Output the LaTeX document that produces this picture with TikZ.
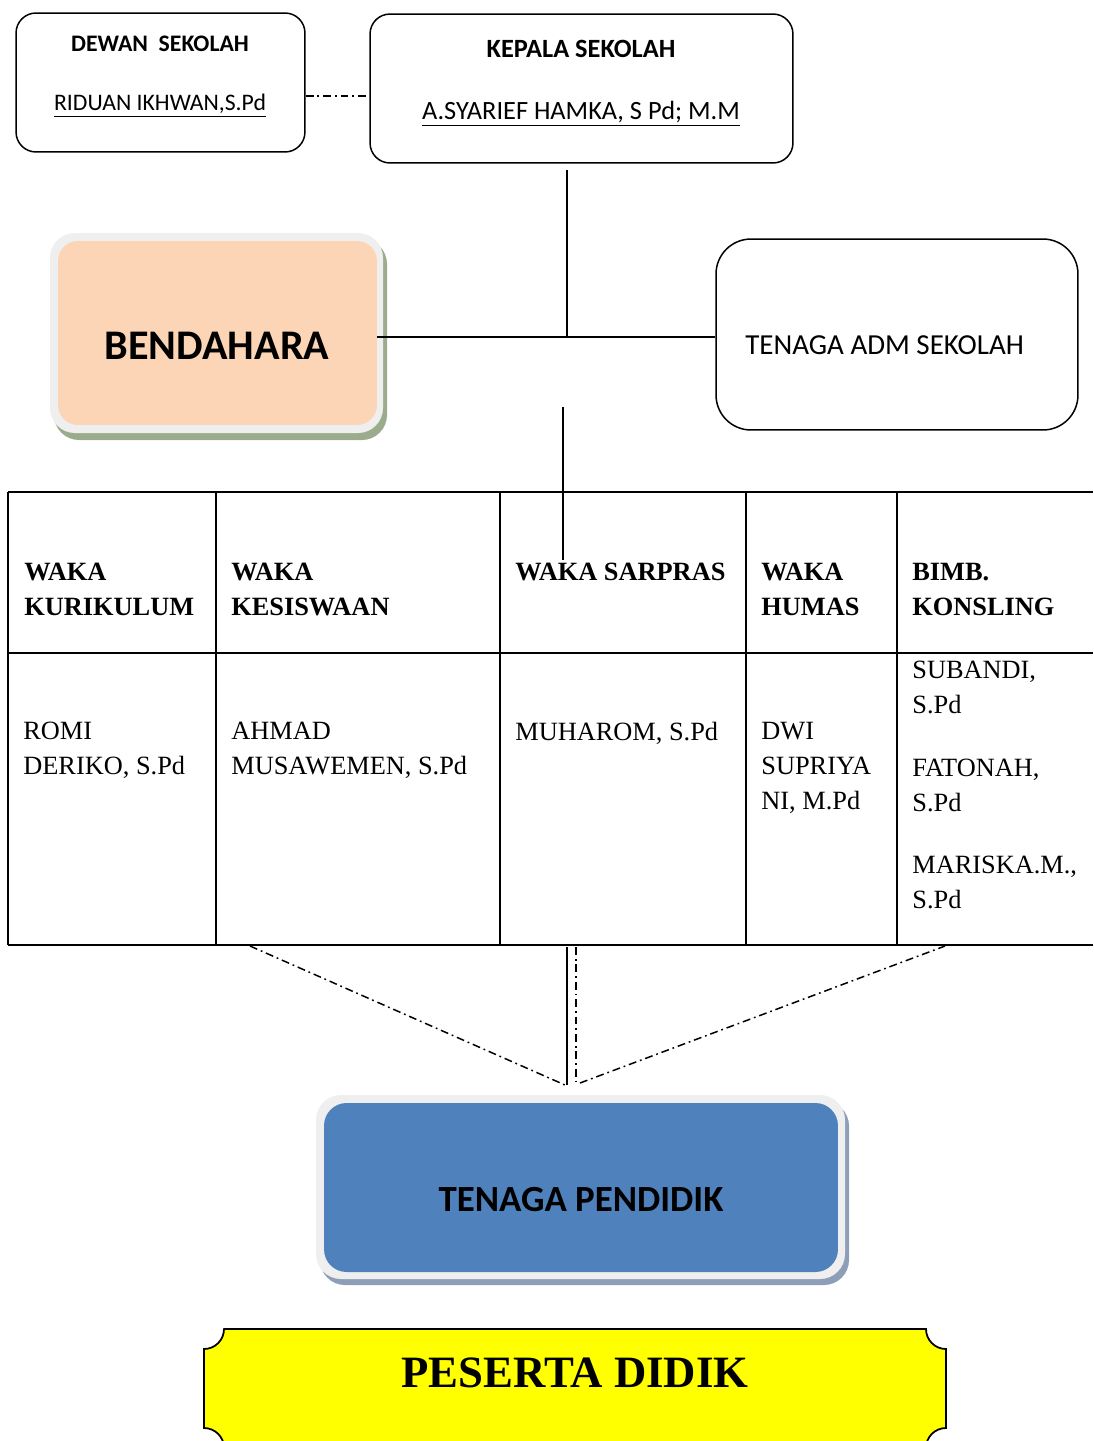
\documentclass[tikz,border=0pt]{standalone}
\usepackage{fontspec}
\setmainfont{Carlito}
\newfontfamily\tnr{Liberation Serif}
\usetikzlibrary{positioning}
\definecolor{peach}{HTML}{FBD5B5}
\definecolor{pendblue}{HTML}{4F81BD}
\definecolor{rim}{HTML}{EFEFEF}
\definecolor{shgreen}{HTML}{9AAC8C}
\definecolor{shblue}{HTML}{8E9DB8}
\definecolor{plaque}{HTML}{FFFF00}
\tikzset{
  box/.style={draw, line width=0.85pt, rounded corners=0.4cm},
  link/.style={line width=0.8pt},
  dashdot/.style={line width=0.85pt, dash pattern=on 4.5pt off 2.2pt on 1pt off 2.2pt},
  head/.style={font=\tnr\bfseries\fontsize{15}{19.8}\selectfont, anchor=north west, inner sep=0pt, align=left},
  cell/.style={font=\tnr\fontsize{15}{19.8}\selectfont, anchor=north west, inner sep=0pt, align=left},
}

\begin{document}
\begin{tikzpicture}[x=0.02cm,y=-0.02cm]
\useasboundingbox (0,0) rectangle (1093,1441);
\clip (0,0) rectangle (1093,1441);

% dewan sekolah & kepala sekolah
\node[box, minimum width=5.78cm, minimum height=2.78cm] (dewan) at (160.5,82.5) {};
\node[font=\bfseries\fontsize{13.5}{16}\selectfont] (dtitle) at (160,44) {DEWAN\ \ SEKOLAH};
\node[font=\fontsize{13.5}{16}\selectfont] (dname) at (160,106) {\underline{RIDUAN IKHWAN,S.Pd}};
\node[box, minimum width=8.46cm, minimum height=2.98cm] (kepala) at (581.5,88.5) {};
\node[font=\bfseries\fontsize{15}{18}\selectfont] (ktitle) at (581,49) {KEPALA SEKOLAH};
\node[font=\fontsize{15}{18}\selectfont] (kname) at (581,114) {\underline{A.SYARIEF HAMKA, S Pd; M.M}};
\coordinate (lnk) at (0,96);
\draw[dashdot] (dewan.east |- lnk) -- (kepala.west |- lnk);

% bendahara
\fill[shgreen, rounded corners=0.5cm] (54,239) rectangle (387,440);
\fill[rim, rounded corners=0.5cm] (50,233) rectangle (383,433);
\node[fill=peach, rounded corners=0.4cm, minimum width=6.38cm, minimum height=3.68cm] (bend) at (217.5,333) {};
\node[font=\bfseries\fontsize{24}{28}\selectfont] (btxt) at (217,346) {BENDAHARA};

% tenaga adm
\node[box, rounded corners=0.7cm, minimum width=7.24cm, minimum height=3.82cm] (adm) at (897,334.5) {};
\node[font=\fontsize{16.5}{20}\selectfont, anchor=west, inner sep=0pt] (atxt) at (745,345) {TENAGA ADM SEKOLAH};

% garis dari kepala
\coordinate (ktop) at (567,170);
\coordinate (hub) at (567,337);
\draw[link] (ktop) -- (hub);
\draw[link] (bend.east |- hub) -- (adm.west |- hub);
\coordinate (tjoin) at (563,407);
\coordinate (tend) at (563,560);
\draw[link] (tjoin) -- (tend);

% tabel waka
\draw[line width=1pt] (8,492) -- (1093,492);
\draw[line width=1pt] (8,653) -- (1093,653);
\draw[line width=1pt] (8,945) -- (1093,945);
\foreach \cx in {8,216,500,746,897}
  \draw[line width=1pt] (\cx,492) -- (\cx,945);

\node[head] (hkur) at (24,563) {WAKA\\KURIKULUM};
\node[head] (hkes) at (231,563) {WAKA\\KESISWAAN};
\node[head] (hsar) at (515,563) {WAKA SARPRAS};
\node[head] (hhum) at (761,563) {WAKA\\HUMAS};
\node[head] (hbk) at (912,563) {BIMB.\\KONSLING};

\node[cell] (pkur) at (23,722) {ROMI\\DERIKO, S.Pd};
\node[cell] (pkes) at (231,722) {AHMAD\\MUSAWEMEN, S.Pd};
\node[cell] (psar) at (515,722) {MUHAROM, S.Pd};
\node[cell] (phum) at (761,722) {DWI\\SUPRIYA\\NI, M.Pd};
\node[cell] (pbk1) at (912,661) {SUBANDI,\\S.Pd};
\node[cell] (pbk2) at (912,759) {FATONAH,\\S.Pd};
\node[cell] (pbk3) at (912,856) {MARISKA.M.,\\S.Pd};

% garis ke tenaga pendidik
\coordinate (tl) at (250,946);
\coordinate (tr) at (945,946);
\coordinate (m1) at (567,947);
\coordinate (m2) at (576,947);
\coordinate (b1) at (565,1085);
\coordinate (b2) at (567,1085);
\coordinate (b3) at (576,1085);
\coordinate (b4) at (580,1083);
\draw[dashdot] (tl) -- (b1);
\draw[link] (m1) -- (b2);
\draw[dashdot] (m2) -- (b3);
\draw[dashdot] (b4) -- (tr);

% tenaga pendidik
\fill[shblue, rounded corners=0.5cm] (320,1101) rectangle (849,1285);
\fill[rim, rounded corners=0.5cm] (316,1095) rectangle (845,1279);
\node[fill=pendblue, rounded corners=0.45cm, minimum width=10.28cm, minimum height=3.38cm] (pend) at (581,1187.5) {};
\node[font=\bfseries\fontsize{21}{25}\selectfont] (ptxt) at (581,1200) {TENAGA PENDIDIK};

% peserta didik
\draw[line width=1pt, fill=plaque] (224,1329) -- (926,1329)
  arc[start angle=180, end angle=270, radius=0.4cm] -- (946,1428)
  arc[start angle=90, end angle=180, radius=0.4cm] -- (224,1448)
  arc[start angle=0, end angle=90, radius=0.4cm] -- (204,1349)
  arc[start angle=270, end angle=360, radius=0.4cm] -- cycle;
\node[font=\tnr\bfseries\fontsize{25.5}{30}\selectfont] (peserta) at (575,1373) {PESERTA DIDIK};

\end{tikzpicture}
\end{document}
